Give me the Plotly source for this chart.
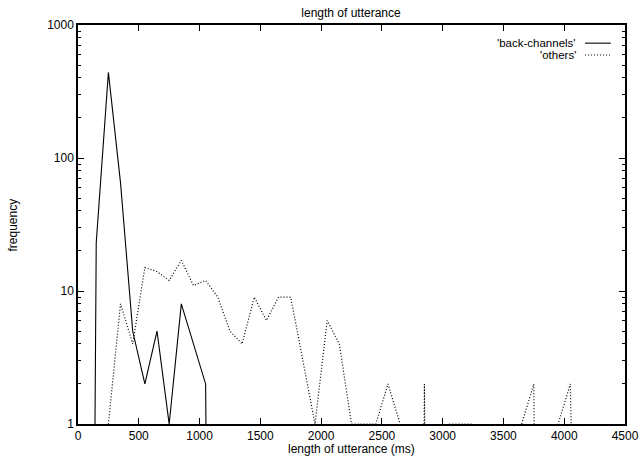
import plotly.graph_objects as go

# bin centres (ms)
bins = [50 + 100 * i for i in range(45)]

back_channels = [0, 23, 440, 65, 5, 2, 5, 1, 8, 4, 2] + [0] * 34

others = [0, 0, 1, 8, 4, 15, 14, 12, 17, 11, 12, 9, 5, 4, 9, 6, 9, 9, 3, 1,
          6, 4, 1, 1, 1, 2, 1, 0, 2, 0, 1, 1, 1, 0, 0, 0, 1, 2, 0, 1,
          2, 0, 0, 0, 0]

x_ticks = [0, 500, 1000, 1500, 2000, 2500, 3000, 3500, 4000, 4500]
y_ticks = [1, 10, 100, 1000]
y_minor = [m * 10 ** k for k in range(3) for m in range(2, 10)]

FONT = "Liberation Sans, Arial, Helvetica, sans-serif"
TINY = 1e-12  # zero counts fall off the bottom of a log axis
DOT = "1px,2px"


def for_log(vals):
    return [v if v > 0 else TINY for v in vals]


fig = go.Figure()
fig.add_trace(go.Scatter(x=bins, y=for_log(back_channels), mode="lines",
                         name="'back-channels'",
                         line=dict(color="black", width=1.1)))
fig.add_trace(go.Scatter(x=bins, y=for_log(others), mode="lines",
                         name="'others'",
                         line=dict(color="black", width=1.2, dash=DOT)))

axis_common = dict(showline=True, linecolor="black", linewidth=1.5,
                   mirror="allticks", ticks="inside", tickcolor="black",
                   showgrid=False, zeroline=False, automargin=False,
                   tickfont=dict(family=FONT, size=12, color="black"))

fig.update_xaxes(range=[0, 4500], tickvals=x_ticks, ticklen=6,
                 **axis_common)
fig.update_yaxes(type="log", range=[0, 3], tickvals=y_ticks,
                 ticktext=[str(v) for v in y_ticks], ticklen=6,
                 minor=dict(ticks="inside", ticklen=3, tickcolor="black",
                            tickmode="array", tickvals=y_minor,
                            showgrid=False),
                 **axis_common)

fig.add_annotation(x=-0.1196, y=0.499, xref="paper", yref="paper",
                   text="frequency", textangle=-90, showarrow=False,
                   xanchor="center", yanchor="middle",
                   font=dict(family=FONT, size=12, color="black"))
fig.add_annotation(x=0.5, y=-0.062, xref="paper", yref="paper",
                   text="length of utterance (ms)", showarrow=False,
                   xanchor="center", yanchor="middle",
                   font=dict(family=FONT, size=12, color="black"))

# legend in the gnuplot style: label right-aligned, sample to its right
legend_items = [("'back-channels'", None), ("'others'", DOT)]
for i, (label, dash) in enumerate(legend_items):
    yp = 0.9545 - i * 0.0295
    fig.add_annotation(x=0.914, y=yp, xref="paper", yref="paper",
                       text=label, showarrow=False, xanchor="right",
                       yanchor="middle",
                       font=dict(family=FONT, size=11.5, color="black"))
    line = dict(color="black", width=1.1)
    if dash:
        line["dash"] = dash
    fig.add_shape(type="line", xref="paper", yref="paper",
                  x0=0.927, x1=0.974, y0=yp, y1=yp, line=line)

fig.update_layout(
    width=639, height=456,
    margin=dict(l=77.5, r=14, t=24.5, b=31.5),
    paper_bgcolor="white", plot_bgcolor="white",
    showlegend=False,
    title=dict(text="length of utterance", x=0.5493, xanchor="center",
               y=0.9726, yanchor="middle",
               font=dict(family=FONT, size=12, color="black")),
    font=dict(family=FONT, size=12, color="black"),
)

fig.write_html("out.html",
               config={"displayModeBar": False},
               post_script="document.body.style.margin='0px';"
                           "document.body.style.overflow='hidden';")
